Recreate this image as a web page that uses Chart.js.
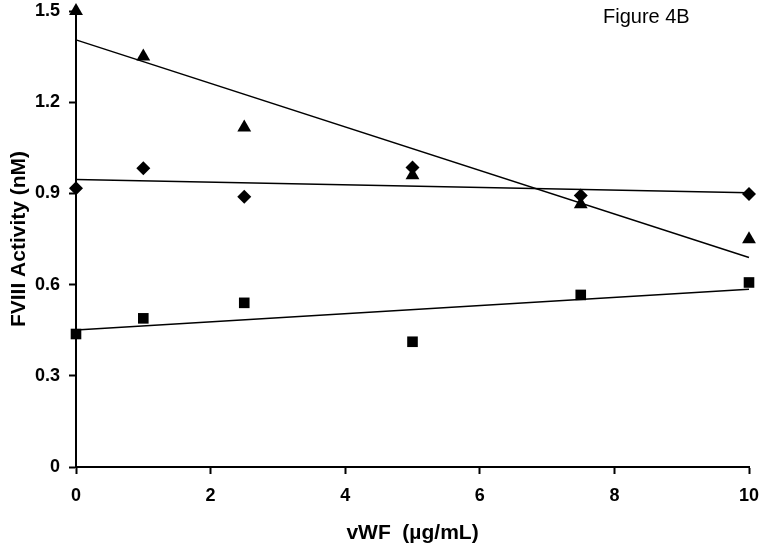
<!DOCTYPE html>
<html>
<head>
<meta charset="utf-8">
<script src="https://cdn.jsdelivr.net/npm/chart.js@4/dist/chart.umd.min.js"></script>
<style>
  html, body { margin: 0; padding: 0; background: #ffffff; }
  #wrap { width: 762px; height: 546px; position: relative; }
</style>
</head>
<body>
<div id="wrap"><canvas id="c" width="762" height="546"></canvas></div>
<script>
// ---- data ----
const vwf = [0, 1, 2.5, 5, 7.5, 10];                 // x: vWF (µg/mL)
const triangleSeries = [1.50, 1.35, 1.117, 0.96, 0.864, 0.749];
const diamondSeries  = [0.917, 0.983, 0.889, 0.985, 0.893, 0.898];
const squareSeries   = [0.4375, 0.489, 0.540, 0.412, 0.566, 0.607];
// trend line end values at x = 0 and x = 10
const trendX = [0, 10];
const triangleTrend = [1.405, 0.689];
const diamondTrend  = [0.946, 0.902];
const squareTrend   = [0.451, 0.585];
const xTicks = [0, 2, 4, 6, 8, 10];
const yTicks = [0, 0.3, 0.6, 0.9, 1.2, 1.5];
const xTitle = 'vWF  (µg/mL)';
const yTitle = 'FVIII Activity (nM)';
const figureLabel = 'Figure 4B';

const pts = (xs, ys) => xs.map((x, i) => ({ x: x, y: ys[i] }));

const markerSet = (data, style, r) => ({
  data: data,
  showLine: false,
  pointStyle: style,
  pointRadius: r,
  pointHoverRadius: r,
  pointBackgroundColor: '#000',
  pointBorderColor: '#000',
  pointBorderWidth: 0,
  clip: false
});
const lineSet = (data) => ({
  data: data,
  showLine: true,
  borderColor: '#000',
  borderWidth: 1.5,
  pointRadius: 0,
  pointHoverRadius: 0,
  fill: false,
  clip: false
});

const figLabelPlugin = {
  id: 'figLabel',
  afterDraw(chart) {
    const ctx = chart.ctx;
    ctx.save();
    ctx.font = '20px "Liberation Sans", Arial, sans-serif';
    ctx.fillStyle = '#000';
    ctx.textAlign = 'left';
    ctx.textBaseline = 'alphabetic';
    ctx.fillText(figureLabel, 603, 23);
    ctx.restore();
  }
};

const fontFam = '"Liberation Sans", Arial, sans-serif';

new Chart(document.getElementById('c'), {
  type: 'scatter',
  data: {
    datasets: [
      lineSet(pts(trendX, triangleTrend)),
      lineSet(pts(trendX, diamondTrend)),
      lineSet(pts(trendX, squareTrend)),
      markerSet(pts(vwf, triangleSeries), 'triangle', 8),
      markerSet(pts(vwf, diamondSeries), 'rectRot', 7),
      markerSet(pts(vwf, squareSeries), 'rect', 7.5)
    ]
  },
  options: {
    responsive: false,
    animation: false,
    devicePixelRatio: 1,
    layout: { padding: { left: 0, right: 13, top: 11, bottom: 0 } },
    plugins: {
      legend: { display: false },
      tooltip: { enabled: false },
      title: { display: false }
    },
    scales: {
      x: {
        type: 'linear',
        min: 0, max: 10,
        afterFit(scale) { scale.height = 79; scale.paddingLeft = 0; scale.paddingRight = 0; },
        afterBuildTicks(scale) { scale.ticks = xTicks.map(v => ({ value: v })); },
        ticks: {
          color: '#000',
          font: { family: fontFam, size: 18, weight: 'bold' },
          padding: 11,
          maxRotation: 0,
          callback: (v) => String(v)
        },
        grid: {
          display: true,
          drawOnChartArea: false,
          drawTicks: true,
          tickLength: 7,
          tickWidth: 2,
          tickColor: '#000'
        },
        border: { display: true, color: '#000', width: 2 },
        title: {
          display: true,
          text: xTitle,
          color: '#000',
          font: { family: fontFam, size: 21, weight: 'bold' },
          padding: { top: 8, bottom: 0 }
        }
      },
      y: {
        type: 'linear',
        min: 0, max: 1.5,
        afterFit(scale) { scale.width = 76; scale.paddingTop = 0; scale.paddingBottom = 0; },
        afterBuildTicks(scale) { scale.ticks = yTicks.map(v => ({ value: v })); },
        ticks: {
          color: '#000',
          font: { family: fontFam, size: 18, weight: 'bold' },
          padding: 9,
          callback: (v) => (v === 0 ? '0' : Number(v).toFixed(1))
        },
        grid: {
          display: true,
          drawOnChartArea: false,
          drawTicks: true,
          tickLength: 7,
          tickWidth: 2,
          tickColor: '#000'
        },
        border: { display: true, color: '#000', width: 2 },
        title: {
          display: true,
          text: yTitle,
          color: '#000',
          font: { family: fontFam, size: 21, weight: 'bold' },
          padding: { top: 7, bottom: 0 }
        }
      }
    }
  },
  plugins: [figLabelPlugin]
});
</script>
</body>
</html>
